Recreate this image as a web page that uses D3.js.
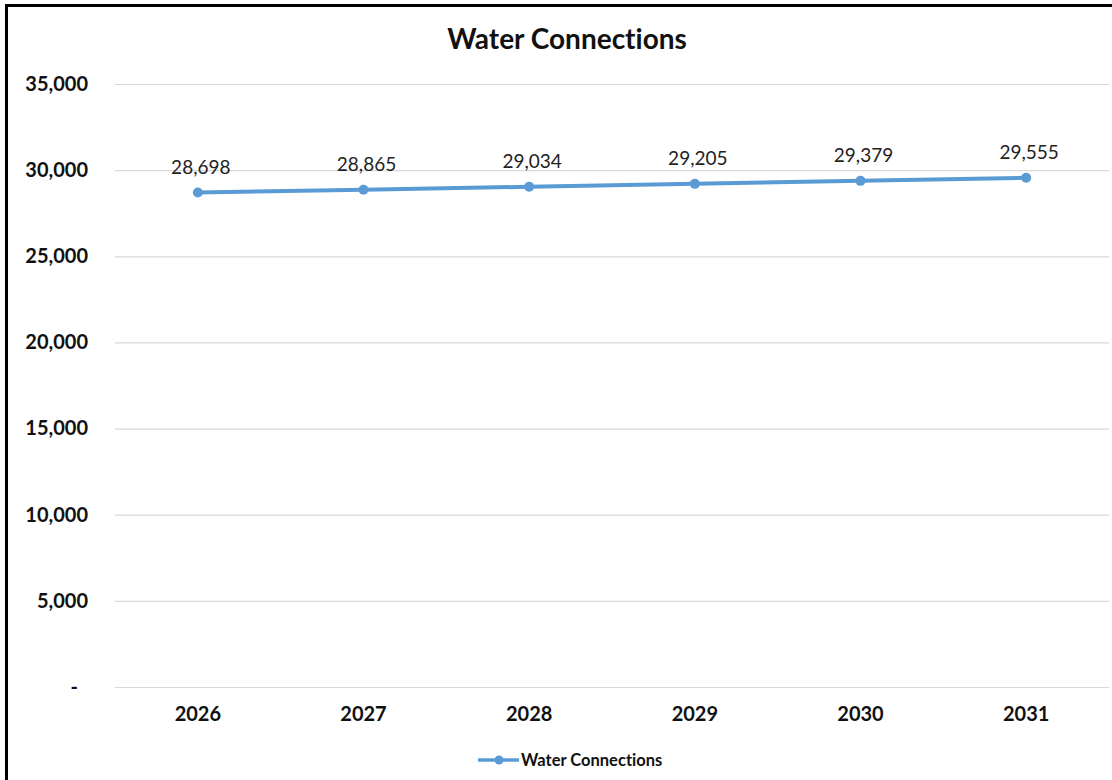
<!DOCTYPE html>
<html>
<head>
<meta charset="utf-8">
<script src="https://cdn.jsdelivr.net/npm/d3@7"></script>
<style>
  html, body { margin: 0; padding: 0; background: #fff; }
  svg { display: block; }
  text { font-family: Lato, "Open Sans", sans-serif; font-variant-ligatures: none; font-feature-settings: "liga" 0, "clig" 0; }
</style>
</head>
<body>
<svg id="chart" width="1112" height="780"></svg>
<script>
// Series data
const years = ["2026", "2027", "2028", "2029", "2030", "2031"];
const connections = [28698, 28865, 29034, 29205, 29379, 29555];
const yTicks = [0, 5000, 10000, 15000, 20000, 25000, 30000, 35000];
const chartTitle = "Water Connections";
const seriesName = "Water Connections";

const W = 1112, H = 780;
const plot = { left: 115, right: 1109, top: 84, bottom: 687 };
const lineColor = "#5B9BD5";

const svg = d3.select("#chart");

// outer frame
svg.append("rect")
  .attr("x", 6.5).attr("y", 5.5)
  .attr("width", W + 10).attr("height", H + 10)
  .attr("fill", "#fff").attr("stroke", "#000").attr("stroke-width", 3);

const x = d3.scaleBand().domain(years).range([plot.left, plot.right]);
const y = d3.scaleLinear().domain([0, 35000]).range([plot.bottom, plot.top]);

const fmt = d3.format(",");

// horizontal gridlines + y labels (accounting style: zero shown as a dash)
const yAxis = d3.axisLeft(y)
  .tickValues(yTicks)
  .tickSize(-(plot.right - plot.left))
  .tickPadding(27)
  .tickFormat(d => d === 0 ? "-" : fmt(d));

const gy = svg.append("g")
  .attr("transform", `translate(${plot.left},0)`)
  .call(yAxis);
gy.select(".domain").remove();
gy.selectAll(".tick line").attr("stroke", "#d9d9d9").attr("stroke-width", 1.2);
gy.selectAll(".tick text")
  .attr("fill", "#111")
  .attr("dx", d => d === 0 ? -10 : 0)
  .style("font-size", "20px")
  .style("font-weight", "700");

// category axis labels
const xAxis = d3.axisBottom(x).tickSize(0).tickPadding(20);
const gx = svg.append("g")
  .attr("transform", `translate(0,${plot.bottom})`)
  .call(xAxis);
gx.select(".domain").remove();
gx.selectAll(".tick text")
  .attr("fill", "#111")
  .style("font-size", "20px")
  .style("font-weight", "700");

// series line
const pts = years.map((yr, i) => ({ yr, v: connections[i] }));
const line = d3.line()
  .x(d => x(d.yr) + x.bandwidth() / 2)
  .y(d => y(d.v));

svg.append("path")
  .datum(pts)
  .attr("d", line)
  .attr("fill", "none")
  .attr("stroke", lineColor)
  .attr("stroke-width", 4)
  .attr("stroke-linecap", "round");

svg.append("g").selectAll("circle")
  .data(pts)
  .join("circle")
  .attr("cx", d => x(d.yr) + x.bandwidth() / 2)
  .attr("cy", d => y(d.v))
  .attr("r", 5)
  .attr("fill", lineColor);

// value labels
svg.append("g").selectAll("text")
  .data(pts)
  .join("text")
  .attr("x", d => x(d.yr) + x.bandwidth() / 2 + 3)
  .attr("y", d => y(d.v) - 19)
  .attr("text-anchor", "middle")
  .attr("fill", "#222")
  .style("font-size", "19px")
  .text(d => fmt(d.v));

// title
svg.append("text")
  .attr("x", 567)
  .attr("y", 49)
  .attr("text-anchor", "middle")
  .attr("fill", "#111")
  .style("font-size", "28px")
  .style("font-weight", "700")
  .text(chartTitle);

// legend
const lg = svg.append("g");
lg.append("line")
  .attr("x1", 478).attr("x2", 519)
  .attr("y1", 760).attr("y2", 760)
  .attr("stroke", lineColor).attr("stroke-width", 3.5);
lg.append("circle")
  .attr("cx", 499).attr("cy", 760).attr("r", 4.5)
  .attr("fill", lineColor);
lg.append("text")
  .attr("x", 521).attr("y", 765.5)
  .attr("fill", "#111")
  .style("font-size", "16.5px")
  .style("font-weight", "700")
  .text(seriesName);
</script>
</body>
</html>
